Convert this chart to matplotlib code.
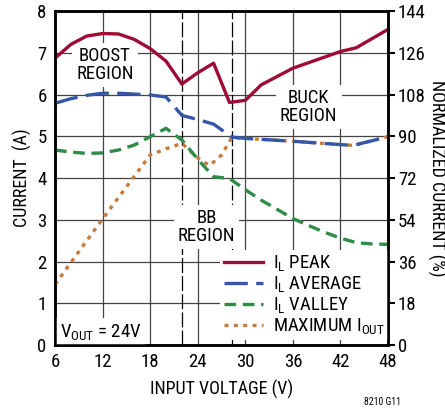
import matplotlib
matplotlib.use("Agg")
import matplotlib.pyplot as plt

plt.rcParams["font.family"] = ["Roboto Condensed", "Archivo Narrow",
                               "Liberation Sans Narrow", "DejaVu Sans"]
plt.rcParams["mathtext.default"] = "regular"

# input voltage (V) and inductor currents (A)
vin_peak = [6, 8, 10, 12, 14, 16, 18, 20, 22, 24, 26, 28, 30, 32, 36, 42, 44, 48]
il_peak = [6.87, 7.2, 7.4, 7.46, 7.45, 7.32, 7.1, 6.8, 6.25, 6.52, 6.75, 5.81,
           5.86, 6.23, 6.63, 7.03, 7.12, 7.56]

vin_avg = [6, 8, 10, 12, 14, 16, 18, 20, 22, 24, 26, 28.3, 30, 36, 43.6, 48]
il_avg = [5.79, 5.9, 5.98, 6.03, 6.03, 6.01, 5.99, 5.94, 5.5, 5.4, 5.29, 4.98,
          4.95, 4.88, 4.78, 4.99]

vin_valley = [6, 8, 10, 12, 14, 16, 18, 20, 22, 24, 26, 28, 30, 32, 34, 36, 38,
              40, 42, 44, 46, 48]
il_valley = [4.67, 4.62, 4.59, 4.6, 4.67, 4.79, 4.99, 5.19, 4.91, 4.45, 4.03,
             3.99, 3.72, 3.47, 3.25, 3.03, 2.86, 2.7, 2.56, 2.45, 2.42, 2.41]

vin_iout = [6, 12, 18, 20, 22, 24, 25.5, 27, 28.3, 30, 36, 43.6, 48]
max_iout = [1.45, 3.02, 4.55, 4.7, 4.83, 4.48, 4.3, 4.55, 4.97, 4.95, 4.88, 4.78,
            4.99]

region_edges = [22, 28.3]

fig = plt.figure(figsize=(4.45, 4.12), dpi=100)
ax = fig.add_axes([0.1236, 0.1626, 0.7484, 0.8107])

ax.plot(vin_peak, il_peak, color="#9E0C35", lw=2.4, label="I$_L$ PEAK", zorder=5)
ax.plot(vin_avg, il_avg, color="#3557A8", lw=2.4, dashes=(7, 2.5),
        label="I$_L$ AVERAGE", zorder=5)
ax.plot(vin_valley, il_valley, color="#2F8C48", lw=2.4, dashes=(3.5, 2),
        label="I$_L$ VALLEY", zorder=5)
ax.plot(vin_iout, max_iout, color="#C87A3A", lw=2.4, dashes=(1.2, 1.6),
        label="MAXIMUM I$_{OUT}$", zorder=4)

for v in region_edges:
    ax.axvline(v, color="black", lw=0.9, dashes=(12, 2.5), zorder=2)

ax.set_xlim(6, 48)
ax.set_ylim(0, 8)
ax.set_xticks(range(6, 49, 6))
ax.set_yticks(range(0, 9))
ax.grid(True, color="#444444", lw=0.9)
ax.set_axisbelow(True)
ax.tick_params(length=0, labelsize=13.5, pad=6)
for s in ax.spines.values():
    s.set_linewidth(1.8)

ax.set_xlabel("INPUT VOLTAGE (V)", fontsize=13, labelpad=6)
ax.set_ylabel("CURRENT  (A)", fontsize=13, labelpad=4)

box = dict(facecolor="white", edgecolor="none", pad=3)
ax.text(12.3, 6.7, "BOOST\nREGION", ha="center", va="center", fontsize=13.5,
        linespacing=1.0, bbox=box, zorder=3)
ax.text(38.0, 5.7, "BUCK\nREGION", ha="center", va="center", fontsize=13.5,
        linespacing=1.0, bbox=box, zorder=3)
ax.text(25.1, 2.83, "BB\nREGION", ha="center", va="center", fontsize=13.5,
        linespacing=1.0, bbox=box, zorder=3)
ax.text(6.6, 0.08, "V$_{OUT}$ = 24V", ha="left", va="bottom", fontsize=13.5,
        bbox=box, zorder=3)

leg = ax.legend(loc="lower right", bbox_to_anchor=(1.0, 0.015), fontsize=13.5,
                frameon=True, fancybox=False, handlelength=2.1,
                handletextpad=0.5, labelspacing=0.05, borderpad=0.2,
                borderaxespad=0.0)
leg.get_frame().set_edgecolor("none")
leg.get_frame().set_facecolor("white")
leg.get_frame().set_alpha(1)
leg.set_zorder(6)

ax2 = ax.twinx()
ax2.set_ylim(0, 144)
ax2.set_yticks(range(0, 145, 18))
ax2.tick_params(direction="out", length=5, width=1.5, labelsize=13.5, pad=2)
ax2.set_ylabel("NORMALIZED CURRENT (%)", fontsize=13, rotation=270,
               labelpad=15)
for s in ax2.spines.values():
    s.set_linewidth(1.8)

fig.text(0.86, 0.012, "8210 G11", fontsize=7, ha="center", va="bottom")

fig.savefig("out.png", dpi=100)
